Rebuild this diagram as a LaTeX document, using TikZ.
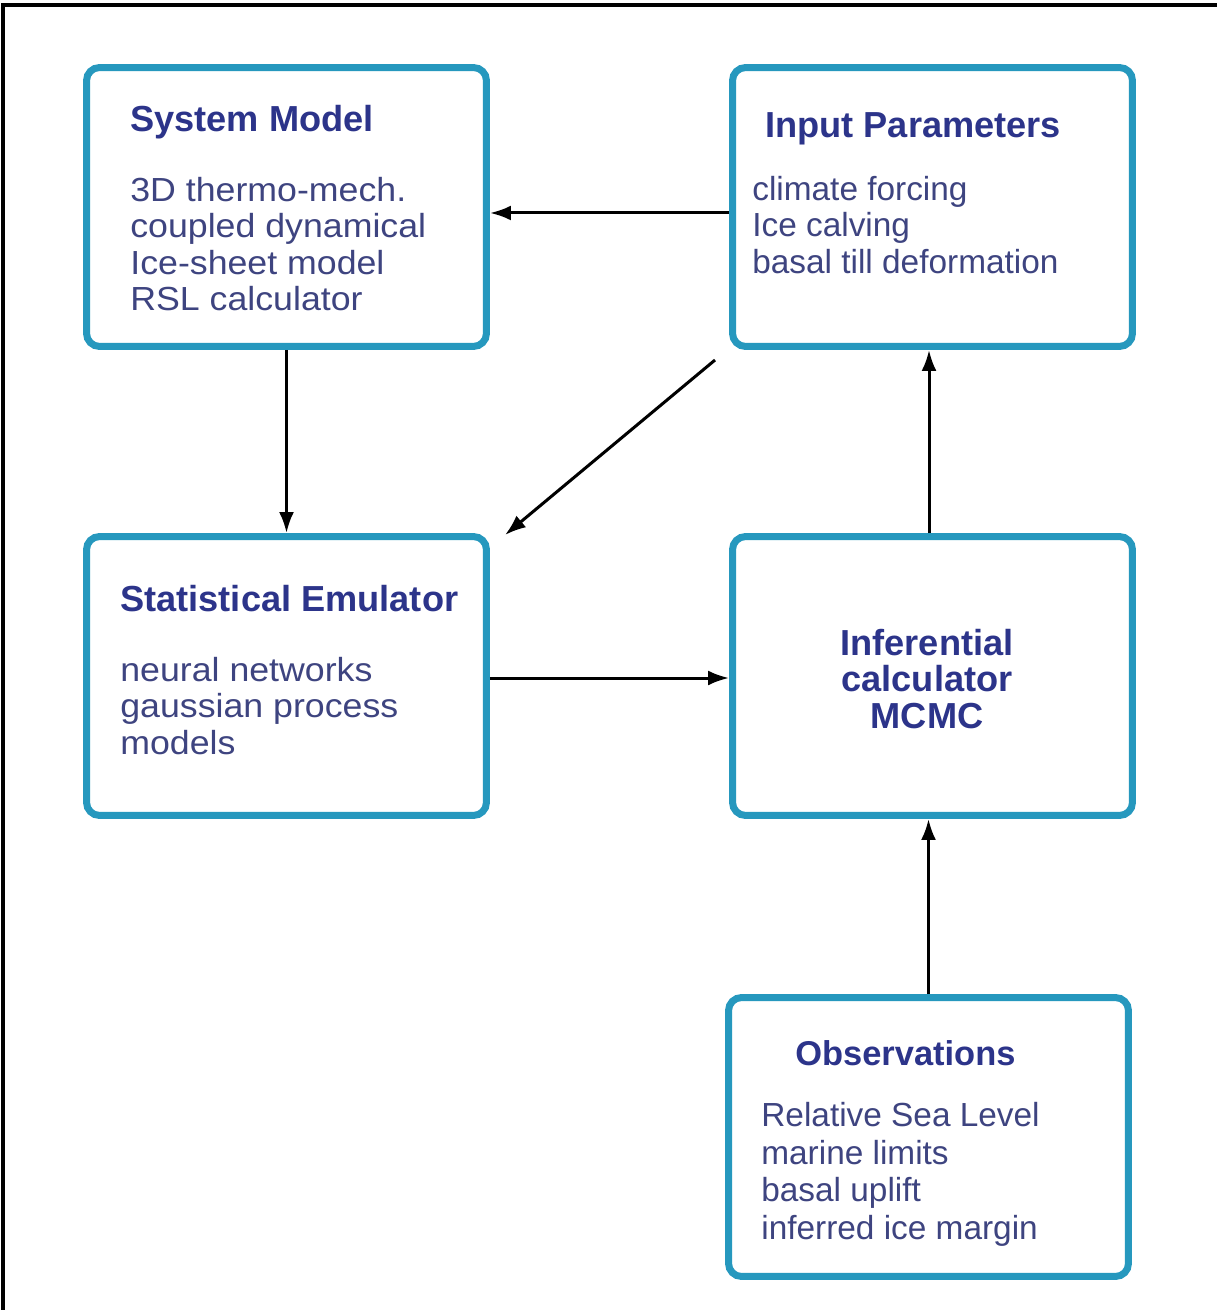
\documentclass[tikz,border=0pt]{standalone}
\usepackage{fontspec}
\setmainfont{Liberation Sans}
\newfontfamily\widesans[FakeStretch=1.07]{Liberation Sans}
\usepackage{tikz}
\usetikzlibrary{arrows.meta}

\definecolor{boxteal}{RGB}{38,152,190}
\definecolor{headblue}{RGB}{44,52,138}
\definecolor{bodyblue}{RGB}{62,68,128}

\tikzset{
  block/.style={draw=boxteal, line width=0.14cm, rounded corners=0.26cm,
    minimum width=8.0cm, minimum height=5.58cm, fill=white},
  head/.style={anchor=west, text=headblue, font=\fontsize{20.6}{22.5}\selectfont\bfseries, inner sep=0pt},
  body/.style={anchor=north west, text=bodyblue, font=\fontsize{19}{20.7}\selectfont,
    align=left, inner sep=0pt},
  widebody/.style={body, font=\widesans\fontsize{19}{20.7}\selectfont},
  flow/.style={->, line width=0.06cm, black}
}

\begin{document}
\begin{tikzpicture}[x=0.02cm, y=-0.02cm, >={Latex[length=0.42cm,width=0.3cm]}]
\useasboundingbox (0,0) rectangle (1217,1310);

% outer frame (cut at right and bottom)
\draw[line width=0.07cm] (3,1310) -- (3,5) -- (1217,5);

% boxes
\node[name=sysmodel, block] at (286.5,207) {};
\node[name=input, block] at (932.5,207) {};
\node[name=emulator, block] at (286.5,676) {};
\node[name=infer, block] at (932.5,676) {};
\node[name=obs, block] at (928.5,1137) {};

% texts
\node[name=sysmodel_head, head] at (130,122) {System Model};
\node[name=sysmodel_body, widebody] at (130,177) {3D thermo-mech.\\coupled dynamical\\Ice-sheet model\\RSL calculator};

\node[name=input_head, head] at (765,129) {Input Parameters};
\node[name=input_body, body] at (752,176) {climate forcing\\Ice calving\\basal till deformation};

\node[name=emulator_head, head] at (120,599) {Statistical Emulator};
\node[name=emulator_body, widebody] at (120,657) {neural networks\\gaussian process\\models};

\node[name=infer_text, text=headblue, font=\fontsize{20.6}{20.7}\selectfont\bfseries,
  align=center, inner sep=0pt] at (927,679) {Inferential\\calculator\\MCMC};

\node[name=obs_head, head, font=\fontsize{19.6}{21.5}\selectfont\bfseries] at (795,1053) {Observations};
\node[name=obs_body, body, font=\fontsize{19}{21.4}\selectfont] at (761,1102) {Relative Sea Level\\marine limits\\basal uplift\\inferred ice margin};

% free ends of the diagonal arrow
\coordinate (diag_start) at (715,360);
\coordinate (diag_end) at (505,535);

% connectors
\draw[flow] ([yshift=-0.12cm]input.west) -- ([yshift=-0.12cm]sysmodel.east);
\draw[flow] (sysmodel.south) -- (emulator.north);
\draw[flow] (diag_start) -- (diag_end);
\draw[flow] ([yshift=-0.04cm]emulator.east) -- ([yshift=-0.04cm]infer.west);
\draw[flow] ([xshift=-0.07cm]infer.north) -- ([xshift=-0.07cm]input.south);
\draw[flow] (obs.north) -- (obs.north |- infer.south);
\end{tikzpicture}
\end{document}
